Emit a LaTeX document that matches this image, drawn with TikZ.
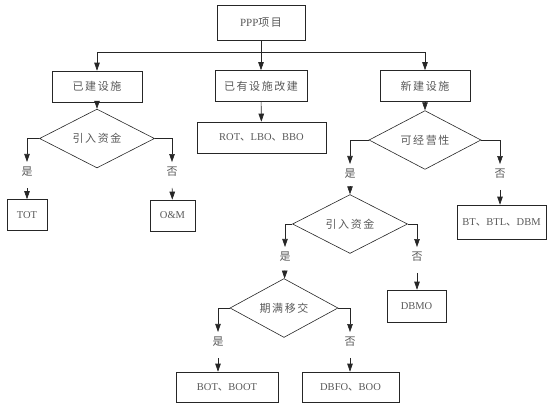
\documentclass[tikz,border=0pt]{standalone}
\usepackage{fontspec}
\setmainfont{Liberation Serif}
\newfontfamily\cjk[LetterSpace=14]{Noto Sans CJK SC}
\newcommand\zhtext[1]{{\cjk #1}}
\usetikzlibrary{shapes.geometric,arrows.meta}
\tikzset{
  box/.style={draw=black!85, line width=0.6pt, minimum height=31pt, inner sep=2pt, font=\fontsize{10.5}{12}\selectfont, text=black!65},
  decide/.style={draw=black!85, line width=0.6pt, diamond, inner sep=0pt, font=\fontsize{11}{12}\selectfont, text=black!65},
  lab/.style={inner sep=5pt, font=\fontsize{11}{12}\selectfont, text=black!65},
  arrow/.style={-{Triangle[length=8pt,width=5.5pt]}},
  link/.style={draw=black!85, line width=0.6pt},
  fromlab/.style={shorten <=6pt}
}
\begin{document}
\begin{tikzpicture}[x=1pt,y=-1pt]
  \useasboundingbox (0,0) rectangle (553,408);
  % top level
  \node[box, minimum width=88pt, minimum height=35pt, font=\fontsize{11}{12}\selectfont] (ppp) at (261,22.5) {PPP\zhtext{项目}};
  \coordinate (bar) at (261,52);
  \node[box, minimum width=90pt, font=\fontsize{11}{12}\selectfont] (jian) at (97,86.5) {\zhtext{已建设施}};
  \node[box, minimum width=92pt, font=\fontsize{11}{12}\selectfont] (gai) at (261,86) {\zhtext{已有设施改建}};
  \node[box, minimum width=90pt, font=\fontsize{11}{12}\selectfont] (xin) at (425,86) {\zhtext{新建设施}};
  \draw[link, arrow] (ppp) -- (gai);
  \draw[link, arrow] (bar) -| (jian);
  \draw[link, arrow] (bar) -| (xin);
  % existing facilities
  \node[decide, minimum width=115pt, minimum height=43pt] (fund1) at (97,138.5) {\zhtext{引入资金}};
  \node[lab] (yes1) at (27,172) {\zhtext{是}};
  \node[lab] (no1) at (172,172) {\zhtext{否}};
  \node[box, minimum width=40pt] (tot) at (27,215) {TOT};
  \node[box, minimum width=45pt] (om) at (172.5,215.5) {O\&M};
  \draw[link, arrow] (jian) -- (fund1);
  \draw[link, arrow] (fund1.west) -| (yes1);
  \draw[link, arrow] (fund1.east) -| (no1);
  \draw[link, arrow, fromlab] (yes1) -- (tot);
  \draw[link, arrow, fromlab] (no1) -- (om);
  % rebuilt facilities
  \node[box, minimum width=129pt] (rlb) at (261.5,137.5) {ROT\zhtext{、}LBO\zhtext{、}BBO};
  \draw[link, arrow] (gai) -- (rlb);
  % new facilities
  \node[decide, minimum width=112pt, minimum height=40pt] (oper) at (425,140) {\zhtext{可经营性}};
  \node[lab] (yes2) at (350,174) {\zhtext{是}};
  \node[lab] (no2) at (500,174) {\zhtext{否}};
  \node[box, minimum width=89pt, minimum height=34pt] (btl) at (501.5,222) {BT\zhtext{、}BTL\zhtext{、}DBM};
  \draw[link, arrow] (xin) -- (oper);
  \draw[link, arrow] (oper.west) -| (yes2);
  \draw[link, arrow] (oper.east) -| (no2);
  \draw[link, arrow, fromlab] (no2) -- (no2 |- btl.north);
  % funding of new facilities
  \node[decide, minimum width=115pt, minimum height=42pt] (fund2) at (350,224) {\zhtext{引入资金}};
  \node[lab] (yes3) at (285,257) {\zhtext{是}};
  \node[lab] (no3) at (417,257) {\zhtext{否}};
  \node[box, minimum width=59pt, minimum height=32pt] (dbmo) at (416.5,306) {DBMO};
  \draw[link, arrow, fromlab] (yes2) -- (fund2);
  \draw[link, arrow] (fund2.west) -| (yes3);
  \draw[link, arrow] (fund2.east) -| (no3);
  \draw[link, arrow, fromlab] (no3) -- (no3 |- dbmo.north);
  % transfer at expiry
  \node[decide, minimum width=108pt, minimum height=40pt] (trans) at (284,308) {\zhtext{期满移交}};
  \node[lab] (yes4) at (218,342) {\zhtext{是}};
  \node[lab] (no4) at (350,342) {\zhtext{否}};
  \node[box, minimum width=102pt, minimum height=30pt] (boot) at (227,387) {BOT\zhtext{、}BOOT};
  \node[box, minimum width=97pt, minimum height=30pt] (dbfo) at (350.5,387) {DBFO\zhtext{、}BOO};
  \draw[link, arrow, fromlab] (yes3) -- (trans);
  \draw[link, arrow] (trans.west) -| (yes4);
  \draw[link, arrow] (trans.east) -| (no4);
  \draw[link, arrow, fromlab] (yes4) -- (yes4 |- boot.north);
  \draw[link, arrow, fromlab] (no4) -- (no4 |- dbfo.north);
\end{tikzpicture}
\end{document}
